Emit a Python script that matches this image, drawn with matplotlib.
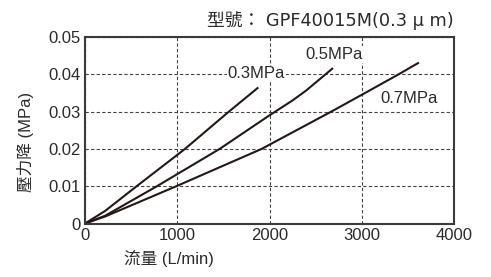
import matplotlib
matplotlib.use("Agg")
import matplotlib.pyplot as plt

plt.rcParams['font.family'] = ['Liberation Sans', 'Noto Sans CJK TC', 'DejaVu Sans']

# datos: caudal (L/min) vs caída de presión (MPa)
flow_03 = [0, 220, 560, 1084, 1560, 1870]
dp_03 = [0, 0.0034, 0.010, 0.020, 0.030, 0.0363]

flow_05 = [0, 220, 780, 1460, 2000, 2250, 2400, 2680]
dp_05 = [0, 0.0021, 0.010, 0.020, 0.029, 0.033, 0.0357, 0.0415]

flow_07 = [0, 220, 990, 1915, 2670, 3000, 3400, 3610]
dp_07 = [0, 0.0019, 0.010, 0.020, 0.030, 0.0345, 0.040, 0.043]

x_ticks = [0, 1000, 2000, 3000, 4000]
y_ticks = [0, 0.01, 0.02, 0.03, 0.04, 0.05]
y_labels = ['0', '0.01', '0.02', '0.03', '0.04', '0.05']

line_color = '#231815'
text_color = '#2a2a2a'

fig = plt.figure(figsize=(4.91, 2.77), dpi=100)
ax = fig.add_axes([85 / 491, 1 - 223.5 / 277, 369 / 491, 186.5 / 277])

ax.plot(flow_03, dp_03, color=line_color, lw=1.5)
ax.plot(flow_05, dp_05, color=line_color, lw=1.5)
ax.plot(flow_07, dp_07, color=line_color, lw=1.5)

ax.set_xlim(0, 4000)
ax.set_ylim(0, 0.05)
ax.set_xticks(x_ticks)
ax.set_yticks(y_ticks)
ax.set_yticklabels(y_labels)
ax.tick_params(length=0, labelsize=12, colors=text_color, pad=3)
ax.grid(True, color='#444444', lw=0.8, linestyle=(0, (3, 2)))
for s in ax.spines.values():
    s.set_color('#3a3a3a')
    s.set_linewidth(1.5)

# etiquetas de las curvas
box = dict(facecolor='white', edgecolor='none', pad=0.5)
ax.text(1545, 0.0401, '0.3MPa', fontsize=12, color=text_color, ha='left', va='center', bbox=box)
ax.text(2385, 0.0453, '0.5MPa', fontsize=12, color=text_color, ha='left', va='center', bbox=box)
ax.text(3200, 0.0335, '0.7MPa', fontsize=12, color=text_color, ha='left', va='center')

fig.text(454 / 491, 1 - 21 / 277, '型號： GPF40015M(0.3 μ m)', fontsize=12.8, color=text_color,
         ha='right', va='center', family=['DejaVu Sans', 'Noto Sans CJK TC'])
fig.text(169 / 491, 1 - 258 / 277, '流量 (L/min)', fontsize=12, color=text_color,
         ha='center', va='center')
fig.text(25 / 491, 1 - 142 / 277, '壓力降 (MPa)', fontsize=12, color=text_color,
         ha='center', va='center', rotation=90)

fig.savefig('out.png', dpi=100)
